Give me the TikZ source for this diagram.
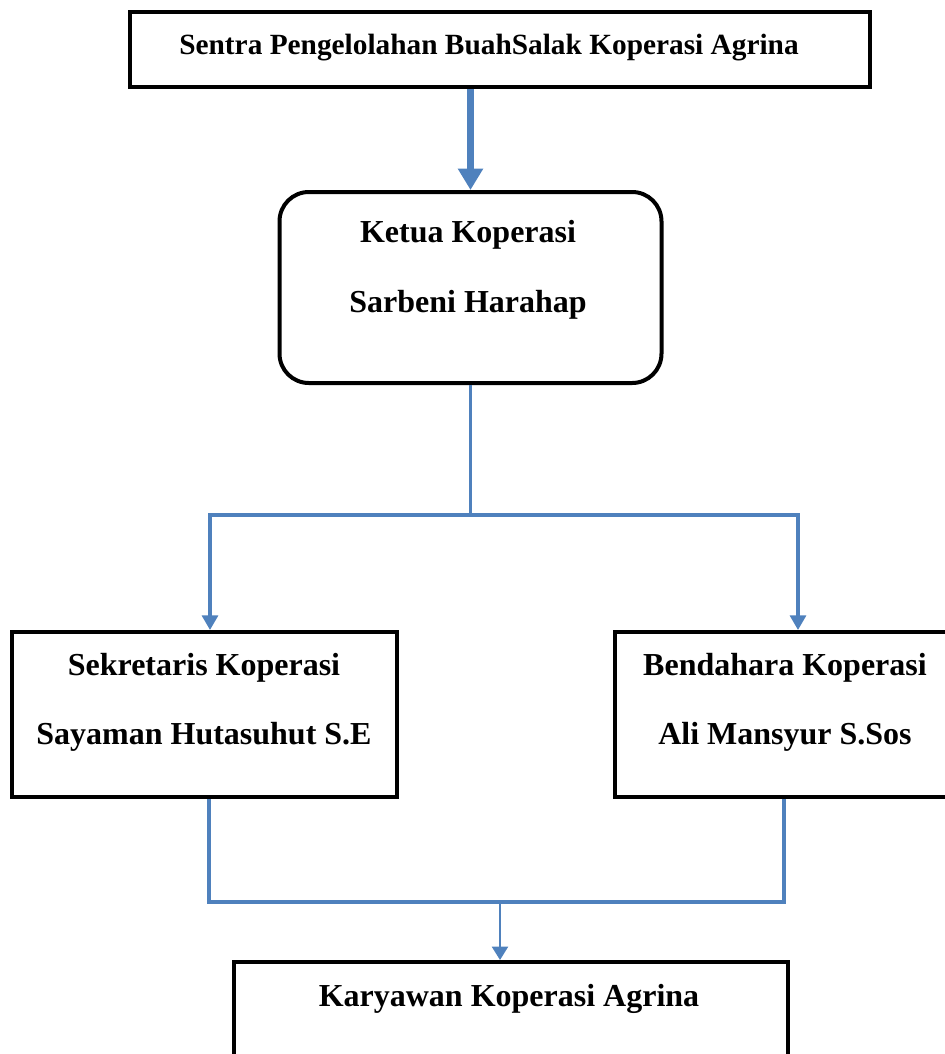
\documentclass[tikz,border=0pt]{standalone}
\usepackage{fontspec}
\setmainfont{Liberation Serif}
\usetikzlibrary{arrows.meta}
\definecolor{orgblue}{RGB}{79,129,189}

\begin{document}
\begin{tikzpicture}
[x=0.75pt, y=-0.75pt,
 every node/.style={inner sep=0pt},
 box/.style={rectangle, draw=black, line width=3pt},
 rbox/.style={rectangle, rounded corners=22pt, draw=black, line width=3pt},
 lbl/.style={anchor=base, font=\fontsize{24}{29}\selectfont\bfseries},
 link/.style={draw=orgblue, line width=2.4pt},
 tip/.style={-{Triangle[width=12pt, length=11pt]}}]
\useasboundingbox (0,0) rectangle (945,1054);
\clip (0,0) rectangle (945,1054);
% boxes
\node (sentra) [box, minimum width=555pt, minimum height=56.25pt] at (500, 49.5) {};
\node (ketua) [rbox, minimum width=286.5pt, minimum height=143.25pt] at (470.5, 287.5) {};
\node (sek) [box, minimum width=288.75pt, minimum height=123.75pt] at (204.5, 714.5) {};
\node (ben) [box, minimum width=255pt, minimum height=123.75pt] at (785, 714.5) {};
\node (kary) [box, minimum width=415.5pt, minimum height=111pt] at (511, 1036) {};
% texts
\node (sentra-t) [lbl, font=\fontsize{22}{26}\selectfont\bfseries] at (489, 54) {Sentra Pengelolahan BuahSalak Koperasi Agrina};
\node (ketua-t1) [lbl] at (468, 242) {Ketua Koperasi};
\node (ketua-t2) [lbl] at (468, 312.5) {Sarbeni Harahap};
\node (sek-t1) [lbl] at (204, 675) {Sekretaris Koperasi};
\node (sek-t2) [lbl] at (204, 744) {Sayaman Hutasuhut S.E};
\node (ben-t1) [lbl] at (785, 675) {Bendahara Koperasi};
\node (ben-t2) [lbl] at (785, 744) {Ali Mansyur S.Sos};
\node (kary-t) [lbl] at (509, 1006) {Karyawan Koperasi Agrina};
% junctions
\coordinate (kiri) at (210, 515);
\coordinate (kanan) at (798, 515);
\coordinate (kiri2) at (209, 902);
\coordinate (kanan2) at (784, 902);
\coordinate (temu) at (500, 902);
% connectors
\draw [draw=orgblue, line width=5.5pt, -{Triangle[width=18pt, length=16pt]}] (ketua.north |- sentra.south) -- (ketua.north);
\draw [link] (ketua.south) -- (ketua.south |- kiri);
\draw [link, {Triangle[width=12pt, length=11pt]}-{Triangle[width=12pt, length=11pt]}] (kiri |- sek.north) -- (kiri) -- (kanan) -- (kanan |- ben.north);
\draw [link] (kiri2 |- sek.south) -- (kiri2) -- (kanan2) -- (kanan2 |- ben.south);
\draw [link, line width=1.6pt, -{Triangle[width=12pt, length=10pt]}] (temu) -- (temu |- kary.north);
\end{tikzpicture}
\end{document}
